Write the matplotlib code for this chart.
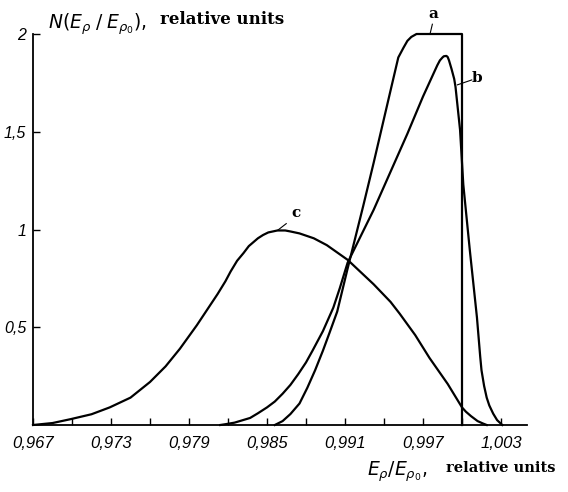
"""Energy distribution of particles N(Ep/Ep0) for three cases a, b, c."""

import matplotlib.pyplot as plt

plt.rcParams["mathtext.fontset"] = "dejavusans"

# curve a: steep rise, flat top, cut-off at 1.000
a_x = [0.9856, 0.9862, 0.9868, 0.9875, 0.9881, 0.9887, 0.9893, 0.9898,
       0.9904, 0.9908, 0.9912, 0.9924, 0.9932, 0.9945, 0.9951, 0.9955,
       0.9958, 0.9961, 0.9965, 1.0000, 1.0000]
a_y = [0.0, 0.02, 0.056, 0.11, 0.19, 0.28, 0.38, 0.47,
       0.58, 0.69, 0.80, 1.12, 1.34, 1.71, 1.88, 1.93,
       1.965, 1.985, 2.0, 2.0, 0.0]

# curve b: triangular-ish peak near 0.9987
b_x = [0.9814, 0.9818, 0.9825, 0.9837, 0.9843, 0.9850, 0.9856, 0.9862,
       0.9868, 0.9874, 0.9880, 0.9885, 0.9893, 0.9901, 0.9906, 0.9912,
       0.9932, 0.9958, 0.9970, 0.9981, 0.9983, 0.9985, 0.9986, 0.9988,
       0.9989, 0.9990, 0.9992, 0.9994, 0.9995, 0.99985, 1.0001, 1.0006,
       1.00115, 1.0013, 1.0014, 1.0015, 1.0017, 1.0019, 1.0021, 1.0024,
       1.0027, 1.0031]
b_y = [0.0, 0.004, 0.012, 0.036, 0.06, 0.09, 0.12, 0.16,
       0.205, 0.26, 0.32, 0.38, 0.48, 0.60, 0.70, 0.83,
       1.10, 1.49, 1.68, 1.84, 1.865, 1.88, 1.886, 1.888,
       1.882, 1.865, 1.82, 1.77, 1.73, 1.51, 1.23, 0.895,
       0.55, 0.43, 0.35, 0.28, 0.20, 0.14, 0.10, 0.058,
       0.025, 0.0]

# curve c: broad distribution, maximum near 0.985
c_x = [0.9670, 0.9685, 0.9699, 0.9715, 0.9729, 0.9745, 0.9760, 0.9772,
       0.9783, 0.9796, 0.9812, 0.9818, 0.9822, 0.9827, 0.9832, 0.9836,
       0.9843, 0.9847, 0.9851, 0.9858, 0.9864, 0.9868, 0.9875, 0.9886,
       0.9896, 0.9912, 0.9932, 0.9945, 0.9952, 0.9964, 0.9975, 0.9989,
       1.0000, 1.0003, 1.0007, 1.0010, 1.0012, 1.0016, 1.0019]
c_y = [0.0, 0.010, 0.030, 0.055, 0.090, 0.140, 0.220, 0.300,
       0.390, 0.510, 0.670, 0.735, 0.785, 0.840, 0.880, 0.915,
       0.955, 0.972, 0.985, 0.995, 0.995, 0.990, 0.980, 0.955,
       0.920, 0.845, 0.720, 0.630, 0.570, 0.460, 0.343, 0.210,
       0.090, 0.068, 0.045, 0.030, 0.020, 0.008, 0.0]

x_ticks = [0.967, 0.970, 0.973, 0.976, 0.979, 0.982, 0.985, 0.988,
           0.991, 0.994, 0.997, 1.000, 1.003]
x_labels = ["0,967", "", "0,973", "", "0,979", "", "0,985", "",
            "0,991", "", "0,997", "", "1,003"]
y_ticks = [0.5, 1.0, 1.5, 2.0]
y_labels = ["0,5", "1", "1,5", "2"]

fig = plt.figure(figsize=(5.68, 4.92), dpi=100)
ax = fig.add_axes([33 / 568, 1 - 425 / 492, 494 / 568, 391 / 492])

for xs, ys in [(a_x, a_y), (b_x, b_y), (c_x, c_y)]:
    ax.plot(xs, ys, color="black", lw=1.6, solid_joinstyle="round",
            clip_on=False)

ax.set_xlim(0.967, 1.005)
ax.set_ylim(0, 2)
for side in ["top", "right"]:
    ax.spines[side].set_visible(False)
for side in ["left", "bottom"]:
    ax.spines[side].set_linewidth(1.3)

ax.set_xticks(x_ticks)
ax.set_xticklabels(x_labels)
ax.set_yticks(y_ticks)
ax.set_yticklabels(y_labels)
ax.tick_params(axis="both", direction="in", length=5, width=1)
ax.tick_params(axis="x", pad=8)
ax.tick_params(axis="y", pad=5)
for lab in ax.get_xticklabels():
    lab.set_family("Liberation Sans")
    lab.set_style("italic")
    lab.set_fontsize(12)
for lab in ax.get_yticklabels():
    lab.set_family("Liberation Sans")
    lab.set_style("italic")
    lab.set_fontsize(11.5)

# curve labels with short leader lines
lab_kw = dict(family="DejaVu Serif", fontsize=11, fontweight="bold",
              ha="center", va="center", clip_on=False)
ax.text(0.99777, 2.10, "a", **lab_kw)
ax.plot([0.99754, 0.99772], [2.0, 2.05], color="black", lw=0.8, clip_on=False)
ax.text(1.00118, 1.775, "b", **lab_kw)
ax.plot([0.99965, 1.00075], [1.74, 1.765], color="black", lw=0.8)
ax.text(0.98720, 1.085, "c", **lab_kw)
ax.plot([0.98580, 0.98648], [0.995, 1.03], color="black", lw=0.8)

# axis titles: italic symbols plus serif "relative units"
fig.text(48 / 568, 1 - 24 / 492, r"$N(E_\rho\;/\;E_{\rho_0})$,",
         fontsize=13.5, ha="left", va="center")
fig.text(160 / 568, 1 - 20 / 492, "relative units",
         family="DejaVu Serif", fontsize=12, fontweight="bold",
         ha="left", va="center")
fig.text(367 / 568, 1 - 472 / 492, r"$E_\rho/E_{\rho_0}$,",
         fontsize=13.5, ha="left", va="center")
fig.text(446 / 568, 1 - 468 / 492, "relative units",
         family="DejaVu Serif", fontsize=10.5, fontweight="bold",
         ha="left", va="center")

fig.savefig("out.png", dpi=100)
